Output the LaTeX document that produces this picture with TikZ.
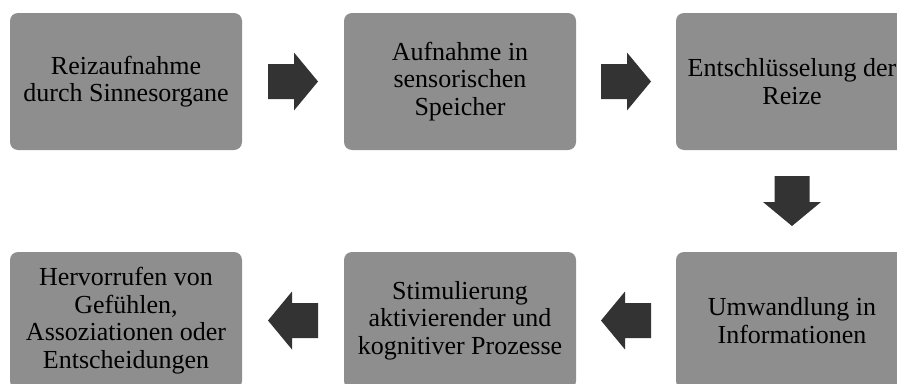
\documentclass[tikz,border=0pt]{standalone}
\usepackage{fontspec}
\setmainfont{Liberation Serif}
\usetikzlibrary{calc}
\definecolor{boxgray}{RGB}{142,142,142}
\definecolor{arrowdark}{RGB}{51,51,51}
\tikzset{
  stage/.style={fill=boxgray, rounded corners=8pt, minimum width=232pt,
    minimum height=137pt, inner sep=0pt, align=center, text=black,
    font=\fontsize{26}{27.5}\selectfont},
  pics/blockarrow/.style={code={
    \fill[arrowdark] (-25,-17.5) -- (1,-17.5) -- (1,-29) -- (25,0)
      -- (1,29) -- (1,17.5) -- (-25,17.5) -- cycle;}}
}
\begin{document}
\begin{tikzpicture}[x=1pt, y=-1pt]
  \useasboundingbox (0,0) rectangle (897,383);
  \clip (0,0) rectangle (897,383);

  % top row, left to right
  \node[stage] (s1) at (126,81.5) {Reizaufnahme\\durch Sinnesorgane};
  \node[stage] (s2) at (460,81.5) {Aufnahme in\\sensorischen\\Speicher};
  \node[stage] (s3) at (792,81.5) {Entschlüsselung der\\Reize};

  % bottom row, right to left
  \node[stage] (s4) at (792,320.5) {Umwandlung in\\Informationen};
  \node[stage] (s5) at (460,320.5) {Stimulierung\\aktivierender und\\kognitiver Prozesse};
  \node[stage] (s6) at (126,320.5) {Hervorrufen von\\Gefühlen,\\Assoziationen oder\\Entscheidungen};

  % block arrows between the stages
  \pic at ($(s1.east)!0.5!(s2.west)$) {blockarrow};
  \pic at ($(s2.east)!0.5!(s3.west)$) {blockarrow};
  \pic[rotate=-90] at ($(s3.south)!0.5!(s4.north)$) {blockarrow};
  \pic[rotate=180] at ($(s4.west)!0.5!(s5.east)$) {blockarrow};
  \pic[rotate=180] at ($(s5.west)!0.5!(s6.east)$) {blockarrow};
\end{tikzpicture}
\end{document}
